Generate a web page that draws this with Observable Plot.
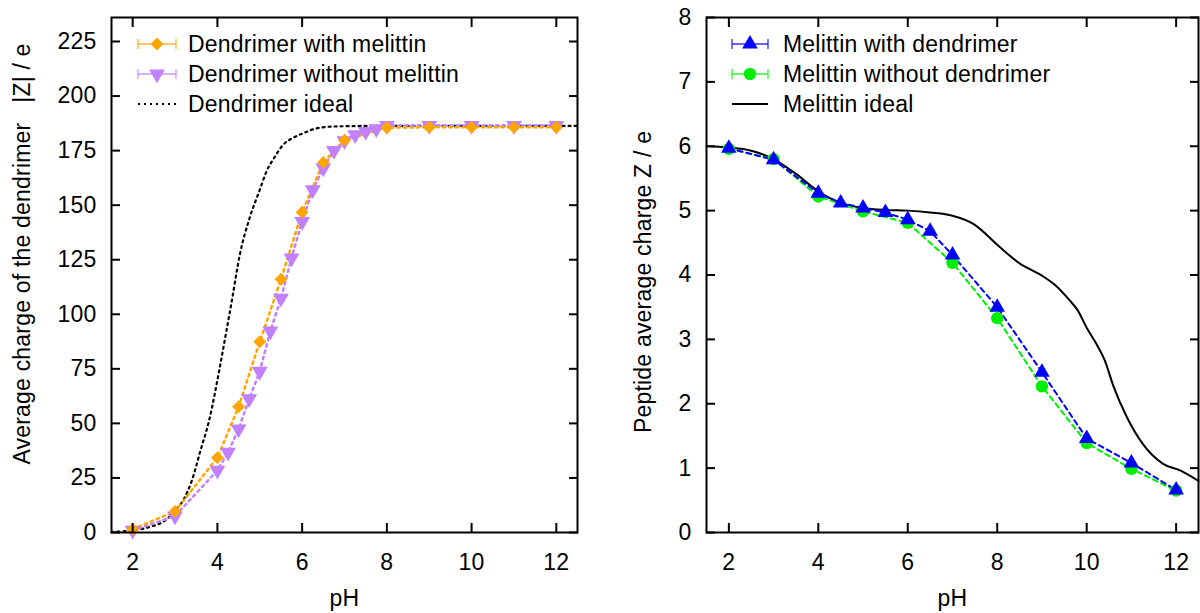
<!DOCTYPE html>
<html><head><meta charset="utf-8">
<script src="https://cdn.jsdelivr.net/npm/d3@7"></script>
<script src="https://cdn.jsdelivr.net/npm/@observablehq/plot@0.6"></script>
<style>
html,body{margin:0;padding:0;background:#fff;overflow:hidden;}
#wrap{display:flex;width:1200px;height:613px;}
#wrap > div{width:600px;height:613px;}
svg{display:block;}
svg text{letter-spacing:0.2px;}
</style></head><body>
<div id="wrap"><div id="left"></div><div id="right"></div></div>
<script>
// ---------- tick labels ----------
const xTicks = [2, 4, 6, 8, 10, 12];
const leftYTicks = [0, 25, 50, 75, 100, 125, 150, 175, 200, 225];
const rightYTicks = [0, 1, 2, 3, 4, 5, 6, 7, 8];

// ---------- left panel: dendrimer ----------
const dendWithPH = [2, 3, 4, 4.5, 5, 5.5, 6, 6.5, 7, 8, 9, 10, 11, 12];
const dendWithZ  = [1.5, 9.7, 34.3, 57.6, 87.4, 116, 146.8, 169.6, 179.8, 185.5, 185.7, 185.7, 185.7, 185.7];

const dendWithoutPH = [2, 3, 4, 4.25, 4.5, 4.75, 5, 5.25, 5.5, 5.75, 6, 6.25, 6.5, 6.75, 7, 7.25, 7.5, 7.75, 8, 9, 10, 11, 12];
const dendWithoutZ  = [1, 7.5, 28.5, 36.7, 47.4, 61.3, 73.8, 92.3, 107.3, 125.8, 142.5, 157, 167, 175, 179.5, 182.2, 183.7, 185, 186.5, 186.5, 186.5, 186.5, 186.5];

const dendIdealPH = [1.5, 2, 2.4, 2.8, 3.0, 3.2, 3.4, 3.6, 3.8, 4.05, 4.2, 4.33, 4.53, 4.76, 5.0, 5.16, 5.35, 5.55, 5.8, 6.03, 6.34, 6.7, 7.5, 9, 11, 12.5];
const dendIdealZ  = [0.3, 1.0, 2.5, 6, 10, 15, 24, 37.5, 51, 75, 91, 105, 127.4, 144.1, 157, 165.5, 172, 177.6, 181, 183, 185.2, 186, 186.3, 186.3, 186.3, 186.3];

// ---------- right panel: melittin ----------
const melWithPH = [2, 3, 4, 4.5, 5, 5.5, 6, 6.5, 7, 8, 9, 10, 11, 12];
const melWithZ  = [5.97, 5.79, 5.27, 5.12, 5.04, 4.97, 4.86, 4.68, 4.31, 3.5, 2.49, 1.46, 1.08, 0.66];

const melWithoutPH = [2, 3, 4, 5, 6, 7, 8, 9, 10, 11, 12];
const melWithoutZ  = [5.96, 5.8, 5.22, 4.99, 4.81, 4.19, 3.33, 2.27, 1.39, 0.99, 0.65];

const melIdealPH = [1.5, 2, 2.5, 3, 3.5, 4, 4.5, 5, 5.5, 6, 6.5, 7, 7.5, 8, 8.5, 9, 9.3, 9.6, 9.8, 10, 10.2, 10.4, 10.6, 10.9, 11.25, 11.7, 12.1, 12.5];
const melIdealZ  = [6.0, 5.98, 5.93, 5.8, 5.57, 5.3, 5.12, 5.04, 5.01, 5.0, 4.97, 4.92, 4.78, 4.47, 4.18, 3.99, 3.84, 3.62, 3.45, 3.18, 2.95, 2.68, 2.27, 1.79, 1.38, 1.07, 0.96, 0.8];

// ---------- styling ----------
const FONT = "'Liberation Sans', Arial, Helvetica, sans-serif";
const FS = 23;
const ORANGE = "#ffa500", PURPLE = "#c080ff", BLUE = "#0000ff", GREEN = "#00ee00";

const zip = (xs, ys) => xs.map((x, i) => ({x, y: ys[i]}));

function frameAxes(yTicks, yPad) {
  return [
    Plot.frame({stroke: "#000", strokeWidth: 2}),
    Plot.axisX({anchor: "bottom", ticks: xTicks, tickSize: -9, tickFormat: () => "", label: null, strokeWidth: 2}),
    Plot.axisX({anchor: "top", ticks: xTicks, tickSize: -9, tickFormat: () => "", label: null, strokeWidth: 2}),
    Plot.axisY({anchor: "left", ticks: yTicks, tickSize: -9, tickFormat: () => "", label: null, strokeWidth: 2}),
    Plot.axisY({anchor: "right", ticks: yTicks, tickSize: -9, tickFormat: () => "", label: null, strokeWidth: 2}),
    Plot.axisX({anchor: "bottom", ticks: xTicks, tickSize: 0, tickPadding: 21, label: null, fontSize: FS, fill: "#000"}),
    Plot.axisY({anchor: "left", ticks: yTicks, tickSize: 0, tickPadding: yPad, label: null, fontSize: FS, fill: "#000"}),
    Plot.text(["pH"], {frameAnchor: "bottom", dy: 66, lineAnchor: "middle", fontSize: FS, fill: "#000"})
  ];
}

// ---------- left plot ----------
const left = Plot.plot({
  width: 600, height: 613,
  marginLeft: 111, marginRight: 23, marginTop: 17, marginBottom: 81,
  x: {domain: [1.5, 12.5]},
  y: {domain: [0, 236]},
  style: {fontFamily: FONT, fontSize: FS + "px", color: "#000", background: "#fff"},
  marks: [
    Plot.line(zip(dendIdealPH, dendIdealZ), {x: "x", y: "y", stroke: "#000", strokeWidth: 2.2, strokeDasharray: "2,4", curve: "monotone-x"}),
    Plot.line(zip(dendWithoutPH, dendWithoutZ), {x: "x", y: "y", stroke: PURPLE, strokeWidth: 2.5, strokeDasharray: "2.5,4"}),
    Plot.line(zip(dendWithPH, dendWithZ), {x: "x", y: "y", stroke: ORANGE, strokeWidth: 2.5, strokeDasharray: "2.5,4"}),
    Plot.dot(zip(dendWithoutPH, dendWithoutZ), {x: "x", y: "y", symbol: "triangle", rotate: 180, r: 5.9, fill: PURPLE, stroke: "none"}),
    Plot.dot(zip(dendWithPH, dendWithZ), {x: "x", y: "y", symbol: "diamond2", r: 5.8, fill: ORANGE, stroke: "none"}),
    ...frameAxes(leftYTicks, 15),
    Plot.text(["Average charge of the dendrimer\u00a0\u00a0\u00a0|Z| / e"], {frameAnchor: "left", rotate: -90, dx: -89, dy: -21, lineAnchor: "middle", textAnchor: "middle", fontSize: FS, fill: "#000"})
  ]
});

// ---------- right plot ----------
const right = Plot.plot({
  width: 600, height: 613,
  marginLeft: 106, marginRight: 2, marginTop: 17, marginBottom: 81,
  x: {domain: [1.5, 12.5]},
  y: {domain: [0, 8]},
  style: {fontFamily: FONT, fontSize: FS + "px", color: "#000", background: "#fff"},
  marks: [
    Plot.line(zip(melIdealPH, melIdealZ), {x: "x", y: "y", stroke: "#000", strokeWidth: 2, curve: "monotone-x"}),
    Plot.line(zip(melWithoutPH, melWithoutZ), {x: "x", y: "y", stroke: GREEN, strokeWidth: 2, strokeDasharray: "5,4"}),
    Plot.line(zip(melWithPH, melWithZ), {x: "x", y: "y", stroke: BLUE, strokeWidth: 2, strokeDasharray: "5,4"}),
    Plot.dot(zip(melWithoutPH, melWithoutZ), {x: "x", y: "y", symbol: "circle", r: 6.2, fill: GREEN, stroke: "none"}),
    Plot.dot(zip(melWithPH, melWithZ), {x: "x", y: "y", symbol: "triangle", r: 5.8, fill: BLUE, stroke: "none"}),
    ...frameAxes(rightYTicks, 15),
    Plot.text(["Peptide average charge Z / e"], {frameAnchor: "left", rotate: -90, dx: -63, dy: 7, lineAnchor: "middle", textAnchor: "middle", fontSize: FS, fill: "#000"})
  ]
});

document.getElementById("left").appendChild(left);
document.getElementById("right").appendChild(right);

// ---------- legends ----------
function legend(svg, x0, x1, tx, entries) {
  const g = d3.select(svg).append("g").attr("font-family", FONT).attr("font-size", FS).attr("text-anchor", "start");
  entries.forEach((e, i) => {
    const y = 44 + i * 30;
    const row = g.append("g");
    if (e.kind === "err") {
      const st = (sel) => sel.attr("stroke", e.color).attr("stroke-width", 1.3).attr("opacity", 0.8);
      st(row.append("line").attr("x1", x0).attr("x2", x1).attr("y1", y).attr("y2", y));
      st(row.append("line").attr("x1", x0).attr("x2", x0).attr("y1", y - 5).attr("y2", y + 5));
      st(row.append("line").attr("x1", x1).attr("x2", x1).attr("y1", y - 5).attr("y2", y + 5));
      row.append("path").attr("d", d3.symbol(e.symbol, Math.PI * e.r * e.r)()).attr("transform", `translate(${(x0 + x1) / 2},${y}) rotate(${e.rot || 0})`).attr("fill", e.color);
    } else {
      row.append("line").attr("x1", x0).attr("x2", x1).attr("y1", y).attr("y2", y).attr("stroke", e.color).attr("stroke-width", 2).attr("stroke-dasharray", e.dash || null);
    }
    row.append("text").attr("x", tx).attr("y", y).attr("dy", "0.35em").attr("text-anchor", "start").attr("fill", "#000").text(e.label);
  });
}
legend(left, 138, 176, 188, [
  {kind: "err", color: ORANGE, symbol: d3.symbolDiamond2, r: 5.8, label: "Dendrimer with melittin"},
  {kind: "err", color: PURPLE, symbol: d3.symbolTriangle, r: 5.9, rot: 180, label: "Dendrimer without melittin"},
  {kind: "line", color: "#000", dash: "2,4", label: "Dendrimer ideal"}
]);
legend(right, 132, 168, 183, [
  {kind: "err", color: BLUE, symbol: d3.symbolTriangle, r: 5.8, label: "Melittin with dendrimer"},
  {kind: "err", color: GREEN, symbol: d3.symbolCircle, r: 6.2, label: "Melittin without dendrimer"},
  {kind: "line", color: "#000", label: "Melittin ideal"}
]);
</script>
</body></html>
